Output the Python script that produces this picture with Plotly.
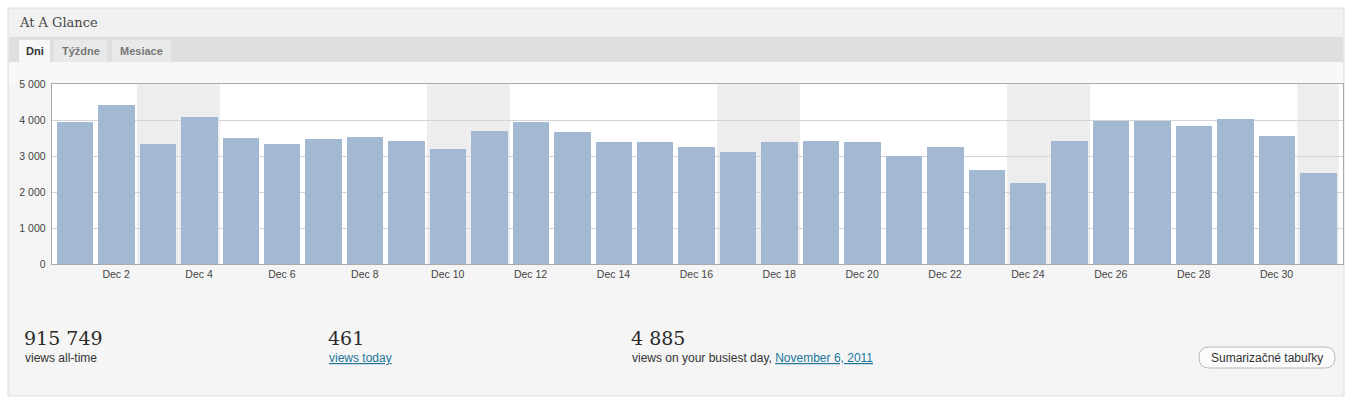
import plotly.graph_objects as go
import datetime as _dt

# ---------------- data ----------------
days = [f"2011-12-{d:02d}" for d in range(1, 32)]
views = [3953, 4408, 3333, 4092, 3491, 3333, 3463, 3528, 3417, 3186,
         3694, 3936, 3658, 3389, 3389, 3250, 3111, 3400, 3417, 3397,
         3009, 3250, 2611, 2258, 3417, 3972, 3964, 3833, 4019, 3556, 2536]
weekend_days = ["2011-12-03", "2011-12-04", "2011-12-10", "2011-12-11",
                "2011-12-17", "2011-12-18", "2011-12-24", "2011-12-25",
                "2011-12-31"]
y_ticks = [0, 1000, 2000, 3000, 4000, 5000]
y_tick_labels = ["0", "1 000", "2 000", "3 000", "4 000", "5 000"]
x_ticks = [f"2011-12-{d:02d}" for d in range(2, 31, 2)]
x_tick_labels = [f"Dec {d}" for d in range(2, 31, 2)]
tabs = ["Dni", "Týždne", "Mesiace"]
title = "At A Glance"
stat_all_time = "915 749"
stat_today = "461"
stat_busiest = "4 885"
busiest_date = "November 6, 2011"
button_label = "Sumarizačné tabuľky"

W, H = 1354, 399
DAY_MS = 86400000


def px(x):
    return x / W


def py(y):
    return 1 - y / H


fig = go.Figure()
fig.add_trace(go.Bar(
    x=days, y=views, width=0.88 * DAY_MS,
    marker=dict(color="#a3b9d3", line=dict(width=0)),
    hoverinfo="x+y",
))

shapes = []
# panel
shapes.append(dict(type="rect", xref="paper", yref="paper",
                   x0=px(8), x1=px(1344), y0=py(396), y1=py(8),
                   fillcolor="#f5f5f5", line=dict(color="#dcdcdc", width=1),
                   layer="below"))
# header band
shapes.append(dict(type="rect", xref="paper", yref="paper",
                   x0=px(9), x1=px(1343), y0=py(37), y1=py(9),
                   fillcolor="#f1f1f1", line=dict(width=0), layer="below"))
# tab band
shapes.append(dict(type="rect", xref="paper", yref="paper",
                   x0=px(9), x1=px(1343), y0=py(62), y1=py(37),
                   fillcolor="#dfdfdf", line=dict(width=0), layer="below"))
# area under tabs
shapes.append(dict(type="rect", xref="paper", yref="paper",
                   x0=px(9), x1=px(1343), y0=py(84), y1=py(62),
                   fillcolor="#f8f8f8", line=dict(width=0), layer="below"))
# tabs
tab_boxes = [(19, 50, "#f8f8f8"), (54, 107, "#e9e9e9"), (112, 171, "#e9e9e9")]
for (x0, x1, col) in tab_boxes:
    shapes.append(dict(type="rect", xref="paper", yref="paper",
                       x0=px(x0), x1=px(x1), y0=py(62), y1=py(40),
                       fillcolor=col, line=dict(width=0), layer="below"))
# white plot background
shapes.append(dict(type="rect", xref="x domain", yref="y domain",
                   x0=0, x1=1, y0=0, y1=1,
                   fillcolor="white", line=dict(width=0), layer="below"))

# weekend shading
for d in weekend_days:
    t = _dt.datetime.strptime(d, "%Y-%m-%d")
    a = (t - _dt.timedelta(hours=12)).strftime("%Y-%m-%d %H:%M")
    b = (t + _dt.timedelta(hours=12)).strftime("%Y-%m-%d %H:%M")
    shapes.append(dict(type="rect", xref="x", yref="y domain",
                       x0=a, x1=b, y0=0, y1=1,
                       fillcolor="#ededed", line=dict(width=0), layer="below"))

# button (rounded pill)
bx0, bx1, by0, by1, r = 1199, 1335, 347, 368, 10
path = (f"M {px(bx0 + r)},{py(by0)} L {px(bx1 - r)},{py(by0)} "
        f"Q {px(bx1)},{py(by0)} {px(bx1)},{py((by0 + by1) / 2)} "
        f"Q {px(bx1)},{py(by1)} {px(bx1 - r)},{py(by1)} "
        f"L {px(bx0 + r)},{py(by1)} "
        f"Q {px(bx0)},{py(by1)} {px(bx0)},{py((by0 + by1) / 2)} "
        f"Q {px(bx0)},{py(by0)} {px(bx0 + r)},{py(by0)} Z")
shapes.append(dict(type="path", xref="paper", yref="paper", path=path,
                   fillcolor="#fbfbfb", line=dict(color="#b8b8b8", width=1)))

sans = "Liberation Sans, Arial, sans-serif"
serif = "DejaVu Serif, Georgia, serif"
annotations = []


def txt(x, y, s, size, color, family=sans, xanchor="left", yanchor="middle"):
    annotations.append(dict(x=px(x), y=py(y), xref="paper", yref="paper",
                            text=s, showarrow=False, xanchor=xanchor,
                            yanchor=yanchor, borderpad=0,
                            font=dict(size=size, color=color, family=family)))


txt(18, 22, title, 13, "#464646", serif)
tab_centers = [34.5, 80.5, 141.5]
tab_colors = ["#333333", "#777777", "#777777"]
for t, cx, col in zip(tabs, tab_centers, tab_colors):
    txt(cx, 51, f"<b>{t}</b>", 11, col, sans, xanchor="center")

txt(23, 338, stat_all_time, 19, "#2a2a2a", serif)
txt(24, 358, "views all-time", 12, "#333333")
txt(327, 338, stat_today, 19, "#2a2a2a", serif)
txt(328, 358, "<u>views today</u>", 12, "#21759b")
txt(630, 338, stat_busiest, 19, "#2a2a2a", serif)
txt(631, 358, "views on your busiest day, "
    f"<span style='color:#21759b'><u>{busiest_date}</u></span>", 12, "#333333")
txt((bx0 + bx1) / 2, 357.5, button_label, 12, "#333333", xanchor="center")

fig.update_layout(
    template="none",
    width=W, height=H,
    autosize=False,
    margin=dict(l=0, r=0, t=0, b=0, pad=0, autoexpand=False),
    paper_bgcolor="white",
    plot_bgcolor="white",
    showlegend=False,
    shapes=shapes,
    annotations=annotations,
    bargap=0,
    xaxis=dict(
        type="date",
        automargin=False,
        domain=[px(51.7), px(1342.7)],
        range=["2011-11-30 10:41", "2011-12-31 14:18"],
        tickvals=x_ticks, ticktext=x_tick_labels,
        ticks="", showgrid=False, zeroline=False,
        showline=True, linecolor="#aaaaaa", linewidth=1, mirror=True,
        tickfont=dict(size=10.5, color="#444444", family=sans),
        fixedrange=True,
    ),
    yaxis=dict(
        automargin=False,
        domain=[py(264), py(84.3)],
        range=[0, 5000],
        tickvals=y_ticks, ticktext=y_tick_labels,
        ticks="", showgrid=True, gridcolor="#d4d4d4", gridwidth=1,
        zeroline=False, ticklabelstandoff=3,
        showline=True, linecolor="#aaaaaa", linewidth=1, mirror=True,
        tickfont=dict(size=10.5, color="#444444", family=sans),
        fixedrange=True,
    ),
)

fig.write_html("out.html", config={"displayModeBar": False})
